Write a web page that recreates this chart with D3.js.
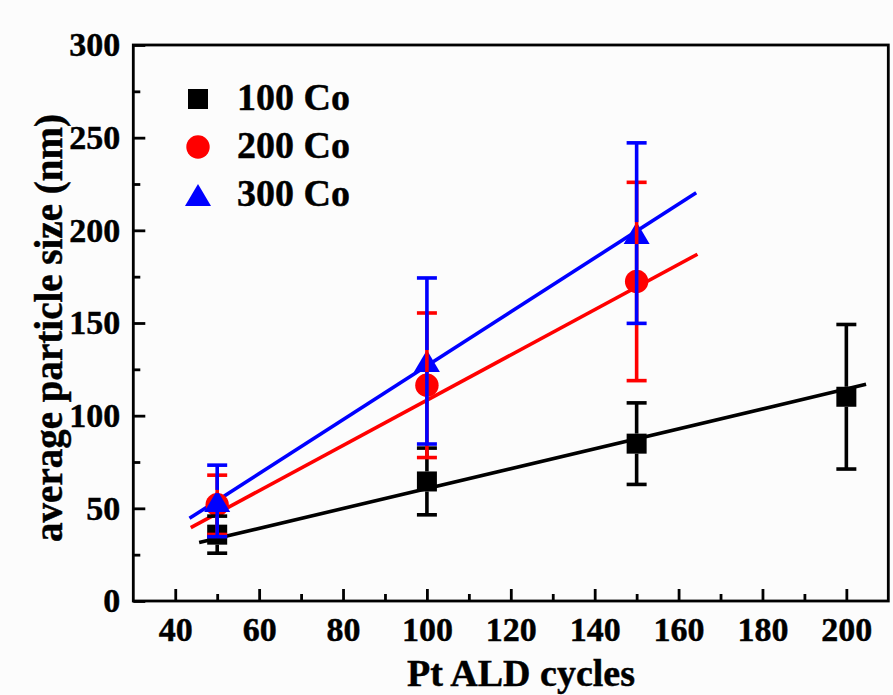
<!DOCTYPE html>
<html>
<head>
<meta charset="utf-8">
<script src="https://cdn.jsdelivr.net/npm/d3@7"></script>
<style>
  html, body { margin: 0; padding: 0; background: #fcfcfc; }
  svg { display: block; }
  text { font-family: "Liberation Serif", "Times New Roman", serif; font-weight: bold; fill: #000; stroke: #000; stroke-width: 0.45px; }
</style>
</head>
<body>
<svg id="chart" width="893" height="695"></svg>
<script>
// Pt ALD cycles on the x axis
const cycles = [50, 100, 150, 200];

// average particle size (nm) and its error bars for each Co loading
const co100 = [35.8, 64.5, 84.9, 110.2];
const co100Err = [10, 18, 22, 39];
const co200 = [51.9, 116.4, 172.4];
const co200Err = [16, 39, 53.5];
const co300 = [54, 129.5, 198.5];
const co300Err = [19.3, 44.8, 48.7];

// linear fit lines: [start, end] in data units
const fit100X = [45.7, 204.7], fit100Y = [31.5, 116.9];
const fit200X = [43.7, 164.5], fit200Y = [39.6, 187.1];
const fit300X = [43.4, 164.2], fit300Y = [44.6, 220.3];

const seriesNames = ["100 Co", "200 Co", "300 Co"];
const seriesColors = ["#000000", "#ff0000", "#0000ff"];
const seriesShapes = ["square", "circle", "triangle"];

const xMajorTicks = [40, 60, 80, 100, 120, 140, 160, 180, 200];
const xMinorTicks = [50, 70, 90, 110, 130, 150, 170, 190];
const yMajorTicks = [0, 50, 100, 150, 200, 250, 300];
const yMinorTicks = [25, 75, 125, 175, 225, 275];

const svg = d3.select("#chart");
const plot = { left: 133.3, right: 888.3, top: 45, bottom: 601 };

const x = d3.scaleLinear().domain([30, 210]).range([plot.left, plot.right]);
const y = d3.scaleLinear().domain([0, 300]).range([plot.bottom, plot.top]);

// axes with inward ticks
const axisStroke = 2.8;
const gx = svg.append("g").attr("transform", `translate(0,${plot.bottom})`)
  .call(d3.axisBottom(x).tickValues(xMajorTicks).tickSize(-12).tickPadding(16).tickFormat(d3.format("d")));
const gxm = svg.append("g").attr("transform", `translate(0,${plot.bottom})`)
  .call(d3.axisBottom(x).tickValues(xMinorTicks).tickSize(-7).tickFormat(""));
const gy = svg.append("g").attr("transform", `translate(${plot.left},0)`)
  .call(d3.axisLeft(y).tickValues(yMajorTicks).tickSize(-12).tickPadding(13).tickFormat(d3.format("d")));
const gym = svg.append("g").attr("transform", `translate(${plot.left},0)`)
  .call(d3.axisLeft(y).tickValues(yMinorTicks).tickSize(-7).tickFormat(""));

[gx, gxm, gy, gym].forEach(g => {
  g.select(".domain").remove();
  g.selectAll(".tick line").attr("stroke", "#000").attr("stroke-width", axisStroke);
  g.selectAll(".tick text").attr("font-size", 34).attr("font-family", "Liberation Serif, Times New Roman, serif").attr("font-weight", "bold").attr("fill", "#000");
});

// frame
svg.append("rect")
  .attr("x", plot.left).attr("y", plot.top)
  .attr("width", plot.right - plot.left).attr("height", plot.bottom - plot.top)
  .attr("fill", "none").attr("stroke", "#000").attr("stroke-width", axisStroke);

// axis titles
svg.append("text")
  .attr("x", 521).attr("y", 686)
  .attr("text-anchor", "middle").attr("font-size", 38)
  .text("Pt ALD cycles");

svg.append("text")
  .attr("transform", `translate(62,328) rotate(-90)`)
  .attr("text-anchor", "middle").attr("font-size", 39)
  .text("average particle size (nm)");

const series = [
  { vals: co100, errs: co100Err, fx: fit100X, fy: fit100Y },
  { vals: co200, errs: co200Err, fx: fit200X, fy: fit200Y },
  { vals: co300, errs: co300Err, fx: fit300X, fy: fit300Y }
].map((s, i) => ({ ...s, color: seriesColors[i], shape: seriesShapes[i], name: seriesNames[i] }));

// half extents of each symbol (vertical), used to start error bars at the symbol edge
const halfH = { square: 10, circle: 11.7, triangle: 11 };

function drawSymbol(g, shape, cx, cy, color) {
  if (shape === "square") {
    g.append("rect").attr("x", cx - 10).attr("y", cy - 10).attr("width", 20).attr("height", 20).attr("fill", color);
  } else if (shape === "circle") {
    g.append("circle").attr("cx", cx).attr("cy", cy).attr("r", 11.7).attr("fill", color);
  } else {
    g.append("path").attr("d", `M${cx},${cy - 11}L${cx + 13},${cy + 11}L${cx - 13},${cy + 11}Z`).attr("fill", color);
  }
}

// fit lines
const lineWidth = 3.6;
const line = d3.line().x(d => x(d[0])).y(d => y(d[1]));
series.forEach(s => {
  svg.append("path")
    .attr("d", line(d3.zip(s.fx, s.fy)))
    .attr("fill", "none").attr("stroke", s.color).attr("stroke-width", lineWidth);
});

// data symbols
const symG = svg.append("g");
series.forEach(s => {
  s.vals.forEach((v, j) => drawSymbol(symG, s.shape, x(cycles[j]), y(v), s.color));
});

// error bars (drawn from the symbol edge outward) with caps
const errG = svg.append("g");
const capHalf = 10;
series.forEach(s => {
  s.vals.forEach((v, j) => {
    const cx = x(cycles[j]), cy = y(v);
    const yt = y(v + s.errs[j]), yb = y(v - s.errs[j]);
    const h = halfH[s.shape];
    const segs = [[cy - h, yt], [cy + h, yb]];
    segs.forEach(([a, b]) => {
      errG.append("line").attr("x1", cx).attr("x2", cx).attr("y1", a).attr("y2", b)
        .attr("stroke", s.color).attr("stroke-width", lineWidth);
    });
    [yt, yb].forEach(yy => {
      errG.append("line").attr("x1", cx - capHalf).attr("x2", cx + capHalf).attr("y1", yy).attr("y2", yy)
        .attr("stroke", s.color).attr("stroke-width", lineWidth);
    });
  });
});

// legend
const legG = svg.append("g");
const legendY = [99, 147, 195];
series.forEach((s, i) => {
  drawSymbol(legG, s.shape, 198, legendY[i], s.color);
  legG.append("text").attr("x", 237).attr("y", legendY[i] + 11)
    .attr("font-size", 38).text(s.name);
});
</script>
</body>
</html>
